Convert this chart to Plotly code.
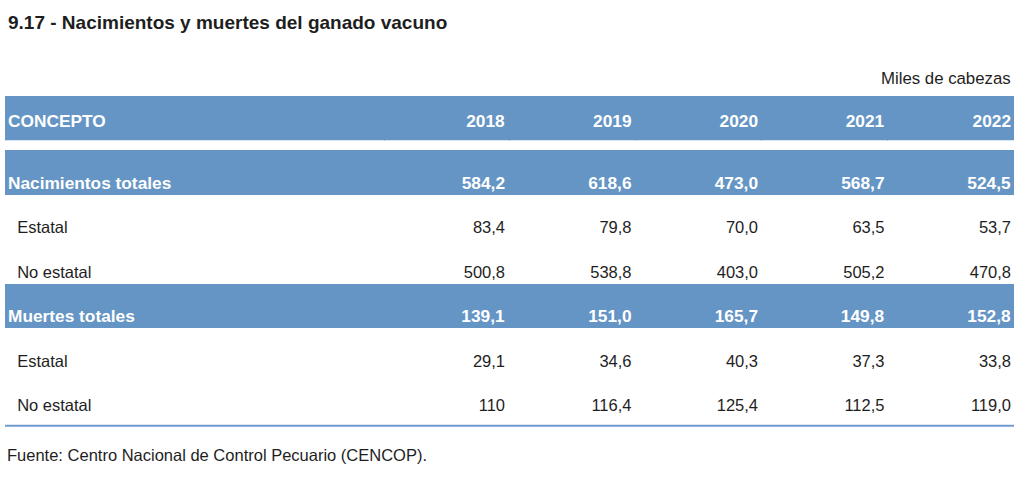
import plotly.graph_objects as go

# ---------------- data ----------------
title_text = "9.17 - Nacimientos y muertes del ganado vacuno"
unit_text = "Miles de cabezas"
source_text = "Fuente: Centro Nacional de Control Pecuario (CENCOP)."
header_label = "CONCEPTO"
years = ["2018", "2019", "2020", "2021", "2022"]

concepts = ["Nacimientos totales", "Estatal", "No estatal",
            "Muertes totales", "Estatal", "No estatal"]
is_total = [True, False, False, True, False, False]

nac_totales = [584.2, 618.6, 473.0, 568.7, 524.5]
nac_estatal = [83.4, 79.8, 70.0, 63.5, 53.7]
nac_no_estatal = [500.8, 538.8, 403.0, 505.2, 470.8]
mue_totales = [139.1, 151.0, 165.7, 149.8, 152.8]
mue_estatal = [29.1, 34.6, 40.3, 37.3, 33.8]
mue_no_estatal = [110, 116.4, 125.4, 112.5, 119.0]

rows = [nac_totales, nac_estatal, nac_no_estatal,
        mue_totales, mue_estatal, mue_no_estatal]

# ---------------- style ----------------
W, H = 1024, 487
BLUE = "#6595c5"
TXT = "#1e1e1e"
CLEAR = "rgba(0,0,0,0)"
FONT = "Liberation Sans, Arial, sans-serif"
FS = 16.5        # regular text
FSB = 17.3       # bold text
ROW_H = 44.5
PAD = 8          # plotly table cell padding
TXT_OFF_B = 18   # bold text centre offset from cell top
TXT_OFF_R = 14.5 # regular text centre offset from cell top


def fmt(v):
    if isinstance(v, int):
        return str(v)
    return f"{v:.1f}".replace(".", ",")


def px_x(x):
    return x / W


def px_y(y):
    return 1 - y / H


ncol = len(years) + 1
nrow = len(concepts)

# table columns: first the concept labels, then one column per year
col_labels = [concepts] + [[fmt(r[i]) for r in rows] for i in range(len(years))]

bold_cols = [[f"<b>{v}</b>" if t else "" for v, t in zip(col, is_total)]
             for col in col_labels]
reg_cols = [["" if t else ("\u00a0\u00a0" + v if j == 0 else v)
             for v, t in zip(col, is_total)]
            for j, col in enumerate(col_labels)]

fill_rows = [BLUE if t else "white" for t in is_total]
aligns = ["left"] + ["right"] * len(years)

# geometry (page pixels)
band_l, band_r = 5, 1013.7
text_l, text_r = 8, 1011
year_w = 126.5
first_right = 505 + PAD - year_w
colw_text = [first_right - (text_l - PAD)] + [year_w] * len(years)
colw_band = [first_right - band_l] + [year_w] * len(years)

head_top, head_bot = 96.3, 141
body_top = 150.7
head_text_c = 120.7
body_text_c = 182.7

fig = go.Figure()

# header band
fig.add_trace(go.Table(
    domain=dict(x=[px_x(band_l), px_x(band_r)], y=[px_y(head_bot), px_y(head_top)]),
    columnwidth=colw_band,
    header=dict(values=[""] * ncol, fill=dict(color=BLUE),
                line=dict(color=BLUE, width=1), height=head_bot - head_top),
    cells=dict(values=[]),
))

# body bands
fig.add_trace(go.Table(
    domain=dict(x=[px_x(band_l), px_x(band_r)],
                y=[px_y(body_top + nrow * ROW_H + 3), px_y(body_top - 16)]),
    columnwidth=colw_band,
    header=dict(values=[], fill=dict(color=CLEAR), line=dict(color=CLEAR, width=0)),
    cells=dict(
        values=[[""] * nrow] * ncol,
        fill=dict(color=[fill_rows] * ncol),
        line=dict(color=[fill_rows] * ncol, width=1),
        height=ROW_H,
    ),
))

# texts: bold (header + totals) and regular rows, same grid
head_h = body_text_c - head_text_c


def text_domain(offset):
    top = head_text_c - offset
    return dict(x=[px_x(text_l - PAD), px_x(text_r + PAD)],
                y=[px_y(top + head_h + nrow * ROW_H + 4), px_y(top)])


fig.add_trace(go.Table(
    domain=text_domain(TXT_OFF_B),
    columnwidth=colw_text,
    header=dict(
        values=[f"<b>{header_label}</b>"] + [f"<b>{y}</b>" for y in years],
        align=aligns,
        fill=dict(color=CLEAR),
        line=dict(color=CLEAR, width=0),
        font=dict(family=FONT, size=FSB, color="white"),
        height=head_h,
    ),
    cells=dict(
        values=bold_cols,
        align=aligns,
        fill=dict(color=CLEAR),
        line=dict(color=CLEAR, width=0),
        font=dict(family=FONT, size=FSB, color="white"),
        height=ROW_H,
    ),
))

fig.add_trace(go.Table(
    domain=text_domain(TXT_OFF_R),
    columnwidth=colw_text,
    header=dict(
        values=[""] * ncol,
        fill=dict(color=CLEAR),
        line=dict(color=CLEAR, width=0),
        font=dict(family=FONT, size=FS, color=TXT),
        height=head_h,
    ),
    cells=dict(
        values=reg_cols,
        align=aligns,
        fill=dict(color=CLEAR),
        line=dict(color=CLEAR, width=0),
        font=dict(family=FONT, size=FS, color=TXT),
        height=ROW_H,
    ),
))

fig.add_shape(type="line", xref="paper", yref="paper",
              x0=px_x(5), x1=px_x(1014), y0=px_y(425.7), y1=px_y(425.7),
              line=dict(color="#6f9bd0", width=2))

fig.add_annotation(text=f"<b>{title_text}</b>", xref="paper", yref="paper",
                   x=px_x(6), y=px_y(23), xanchor="left", yanchor="middle",
                   showarrow=False, font=dict(family=FONT, size=19, color=TXT))
fig.add_annotation(text=unit_text, xref="paper", yref="paper",
                   x=px_x(1013), y=px_y(78.3), xanchor="right", yanchor="middle",
                   showarrow=False, font=dict(family=FONT, size=16.8, color=TXT))
fig.add_annotation(text=source_text, xref="paper", yref="paper",
                   x=px_x(5), y=px_y(455), xanchor="left", yanchor="middle",
                   showarrow=False, font=dict(family=FONT, size=FS, color=TXT))

fig.update_layout(width=W, height=H, margin=dict(l=0, r=0, t=0, b=0),
                  paper_bgcolor="white", plot_bgcolor="white")

fig.write_html("out.html",
               config={"displayModeBar": False},
               post_script="document.body.style.margin='0';"
                           "document.body.style.overflow='hidden';")
